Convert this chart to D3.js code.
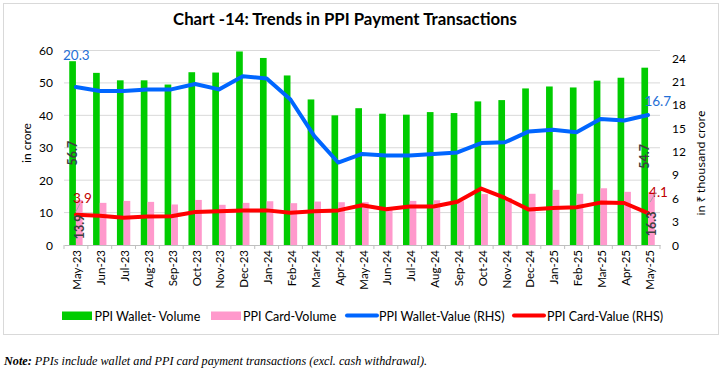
<!DOCTYPE html>
<html><head><meta charset="utf-8">
<script src="https://cdn.jsdelivr.net/npm/d3@7"></script>
<style>body{margin:0;background:#fff}svg{display:block}</style>
</head><body>
<svg id="c" width="723" height="374"></svg>
<script>
const categories = ["May-23","Jun-23","Jul-23","Aug-23","Sep-23","Oct-23","Nov-23","Dec-23","Jan-24","Feb-24","Mar-24","Apr-24","May-24","Jun-24","Jul-24","Aug-24","Sep-24","Oct-24","Nov-24","Dec-24","Jan-25","Feb-25","Mar-25","Apr-25","May-25"];
const walletVolume = [56.7,53.1,50.8,50.8,49.5,53.3,53.2,59.7,57.7,52.3,44.9,40.0,42.2,40.5,40.2,41.0,40.7,44.3,44.7,48.3,48.9,48.6,50.7,51.6,54.7];
const cardVolume = [13.9,13.0,13.6,13.3,12.5,13.9,12.4,13.0,13.5,12.9,13.4,13.2,13.2,11.5,13.6,13.8,13.5,15.7,14.5,15.8,17.0,15.8,17.5,16.4,16.3];
const walletValue = [20.3,19.8,19.8,20.0,20.0,20.7,20.0,21.7,21.4,18.7,14.0,10.6,11.7,11.5,11.5,11.7,11.9,13.1,13.2,14.6,14.8,14.5,16.2,16.0,16.7];
const cardValue = [3.9,3.75,3.5,3.65,3.7,4.25,4.35,4.45,4.45,4.15,4.35,4.45,5.1,4.6,4.95,4.95,5.55,7.25,6.05,4.55,4.75,4.85,5.45,5.4,4.1];
const leftTicks = [0,10,20,30,40,50,60];
const rightTicks = [0,3,6,9,12,15,18,21,24];

const svg = d3.select("#c");
const F = "Lato, 'Noto Sans', sans-serif";
const X0 = 64, X1 = 660, YB = 245, YT = 50.5;

svg.append("rect").attr("x",3.5).attr("y",3.5).attr("width",715).attr("height",331)
  .attr("fill","#fff").attr("stroke","#d9d9d9");

svg.append("text").attr("x",345).attr("y",25).attr("text-anchor","middle")
  .attr("font-family",F).attr("font-weight","bold").attr("font-size",16.8).attr("fill","#000")
  .text("Chart -14: Trends in PPI Payment Transactions");

const x = d3.scaleBand().domain(categories).range([X0,X1]).paddingInner(0).paddingOuter(0);
const yL = d3.scaleLinear().domain([0,60]).range([YB,YT]);
const yR = d3.scaleLinear().domain([0,25]).range([YB,YT]);

// gridlines
svg.append("g").selectAll("line").data(leftTicks.filter(d=>d>0)).join("line")
  .attr("x1",X0).attr("x2",X1).attr("y1",d=>yL(d)).attr("y2",d=>yL(d))
  .attr("stroke","#d9d9d9").attr("stroke-width",1);

// bars
const bw = x.bandwidth()*0.28, off = (x.bandwidth()-2*bw)/2;
svg.append("g").selectAll("rect").data(walletVolume).join("rect")
  .attr("x",(d,i)=>x(categories[i])+off).attr("width",bw)
  .attr("y",d=>yL(d)).attr("height",d=>YB-yL(d)).attr("fill","#00cc00");
svg.append("g").selectAll("rect").data(cardVolume).join("rect")
  .attr("x",(d,i)=>x(categories[i])+off+bw).attr("width",bw)
  .attr("y",d=>yL(d)).attr("height",d=>YB-yL(d)).attr("fill","#ff99cc");

// x axis
const xa = svg.append("g").attr("transform",`translate(0,${YB})`)
  .call(d3.axisBottom(x).tickSize(0).tickFormat(""));
xa.select(".domain").attr("stroke","#bfbfbf");
const bounds = d3.range(categories.length+1).map(i=>X0+i*x.step());
svg.append("g").selectAll("line").data(bounds).join("line")
  .attr("x1",d=>d).attr("x2",d=>d).attr("y1",YB).attr("y2",YB+4).attr("stroke","#bfbfbf");
svg.append("g").selectAll("text").data(categories).join("text")
  .attr("transform",d=>`translate(${x(d)+x.bandwidth()/2+1},${YB+5}) rotate(-90)`)
  .attr("text-anchor","end").attr("dominant-baseline","central")
  .attr("font-family",F).attr("font-size",11.5).attr("fill","#000").text(d=>d);

// axis labels
svg.append("g").selectAll("text").data(leftTicks).join("text")
  .attr("x",53).attr("y",d=>yL(d)).attr("dominant-baseline","central").attr("text-anchor","end")
  .attr("font-family",F).attr("font-size",12).attr("fill","#000").text(d=>d);
svg.append("g").selectAll("text").data(rightTicks).join("text")
  .attr("x",672).attr("y",d=>yR(d)).attr("dominant-baseline","central").attr("text-anchor","start")
  .attr("font-family",F).attr("font-size",12).attr("fill","#000").text(d=>d);

svg.append("text").attr("transform","translate(26,143) rotate(-90)").attr("text-anchor","middle")
  .attr("dominant-baseline","central").attr("font-family",F).attr("font-size",12).text("in crore");
svg.append("text").attr("transform","translate(700,163) rotate(-90)").attr("text-anchor","middle")
  .attr("dominant-baseline","central").attr("font-family","'Noto Sans', 'DejaVu Sans', sans-serif").attr("font-size",11.5).text("in ₹ thousand crore");

// lines
const cx = i => x(categories[i])+x.bandwidth()/2;
const line = d3.line().x((d,i)=>cx(i)).y(d=>yR(d));
svg.append("path").datum(walletValue).attr("d",line).attr("fill","none")
  .attr("stroke","#0066ff").attr("stroke-width",4).attr("stroke-linejoin","round").attr("stroke-linecap","round");
svg.append("path").datum(cardValue).attr("d",line).attr("fill","none")
  .attr("stroke","#ff0000").attr("stroke-width",4).attr("stroke-linejoin","round").attr("stroke-linecap","round");

// data labels
const last = categories.length-1;
function vlab(xp,yp,t){
  svg.append("text").attr("transform",`translate(${xp},${yp}) rotate(-90)`).attr("text-anchor","middle")
    .attr("dominant-baseline","central").attr("font-family",F).attr("font-weight","bold")
    .attr("font-size",12.5).attr("fill","#404040").text(t);
}
vlab(x(categories[0])+off+bw/2, yL(walletVolume[0]/2), walletVolume[0].toFixed(1));
vlab(x(categories[0])+off+bw*1.5, yL(cardVolume[0]*0.4), cardVolume[0].toFixed(1));
vlab(x(categories[last])+off+bw/2, yL(walletVolume[last]/2), walletVolume[last].toFixed(1));
vlab(x(categories[last])+off+bw*1.5, yL(cardVolume[last]*0.4), cardVolume[last].toFixed(1));

function hlab(xp,yp,t,c,anchor){
  svg.append("text").attr("x",xp).attr("y",yp).attr("dominant-baseline","central")
    .attr("text-anchor",anchor||"start")
    .attr("font-family",F).attr("font-size",13.5).attr("fill",c).text(t);
}
hlab(63, yR(walletValue[0])-32, walletValue[0].toFixed(1), "#1f6fd6");
hlab(cx(0)-3, yR(cardValue[0])-17, cardValue[0].toFixed(1), "#c00000");
hlab(cx(last)+23, yR(walletValue[last])-14, walletValue[last].toFixed(1), "#1f6fd6", "end");
hlab(cx(last)+1, yR(cardValue[last])-21, cardValue[last].toFixed(1), "#c00000");

// leader lines
svg.append("line").attr("x1",cx(0)).attr("y1",yR(cardValue[0])-3).attr("x2",cx(0)+4).attr("y2",yR(cardValue[0])-11)
  .attr("stroke","#a6a6a6").attr("stroke-width",1);
svg.append("line").attr("x1",cx(last)+2).attr("y1",yR(cardValue[last])-11).attr("x2",cx(last)+8).attr("y2",yR(cardValue[last])-21)
  .attr("stroke","#a6a6a6").attr("stroke-width",1);

// legend
const lg = svg.append("g").attr("font-family",F).attr("font-size",12.5);
lg.append("rect").attr("x",62).attr("y",311.5).attr("width",30).attr("height",8.5).attr("fill","#00cc00");
lg.append("text").attr("x",94.5).attr("y",316).attr("dominant-baseline","central").text("PPI Wallet- Volume");
lg.append("rect").attr("x",211).attr("y",311.5).attr("width",30).attr("height",8.5).attr("fill","#ff99cc");
lg.append("text").attr("x",243).attr("y",316).attr("dominant-baseline","central").text("PPI Card-Volume");
lg.append("line").attr("x1",347).attr("x2",377).attr("y1",315.5).attr("y2",315.5).attr("stroke","#0066ff").attr("stroke-width",4).attr("stroke-linecap","round");
lg.append("text").attr("x",379).attr("y",316).attr("dominant-baseline","central").text("PPI Wallet-Value (RHS)");
lg.append("line").attr("x1",514).attr("x2",544).attr("y1",315.5).attr("y2",315.5).attr("stroke","#ff0000").attr("stroke-width",4).attr("stroke-linecap","round");
lg.append("text").attr("x",547).attr("y",316).attr("dominant-baseline","central").text("PPI Card-Value (RHS)");

// note
const note = svg.append("text").attr("x",4).attr("y",365).attr("font-family","'Liberation Serif', serif")
  .attr("font-style","italic").attr("font-size",12.2).attr("fill","#000");
note.append("tspan").attr("font-weight","bold").text("Note:");
note.append("tspan").text(" PPIs include wallet and PPI card payment transactions (excl. cash withdrawal).");
</script>
</body></html>
